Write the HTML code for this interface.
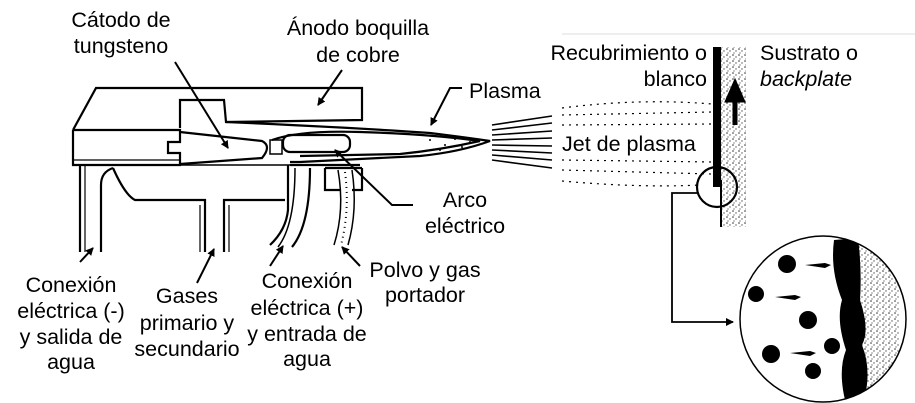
<!DOCTYPE html>
<html><head><meta charset="utf-8"><style>
html,body{margin:0;padding:0;background:#fff;}
svg{display:block;}
text{font-family:"Liberation Sans",sans-serif;font-size:21.5px;fill:#000;}
</style></head><body>
<svg width="915" height="403" viewBox="0 0 915 403">
<defs>
<pattern id="st" width="6" height="6" patternUnits="userSpaceOnUse">
<rect width="6" height="6" fill="#fff"/>
<circle cx="1" cy="1" r="0.8" fill="#333"/><circle cx="4" cy="3" r="0.7" fill="#555"/><circle cx="2" cy="5" r="0.6" fill="#444"/>
</pattern>
<marker id="ah" markerWidth="8" markerHeight="8" refX="7" refY="4" orient="auto" markerUnits="userSpaceOnUse">
<path d="M0,0 L8,4 L0,8 z" fill="#000"/></marker>
</defs>
<line x1="562" y1="34" x2="915" y2="34" stroke="#ddd" stroke-width="1"/>
<g fill="none" stroke="#000" stroke-width="2.2">
<path d="M73,130 L96,88 L362,88 L362,120 L226,122 L224,100 L180,100 L180,128"/>
<path d="M73,130 L73,165 L180,165 L180,153 L168,153 L168,142 L180,142 L180,130 L73,130"/>
<line x1="73" y1="160" x2="180" y2="160" stroke-width="1.2"/>
<path d="M180,132 L262,141 Q272,146 262,158 L180,164"/>
<rect x="270" y="140" width="12" height="14" stroke-width="1.5"/>
<path d="M226,122 Q360,128 430,133 Q470,138 490,141 Q460,152 420,156 L300,162 L290,162"/>
<path d="M272,140 Q300,130 360,132 Q430,134 480,141 Q440,150 400,154 L300,156"/>
<rect x="283" y="135" width="67" height="17" rx="7"/>
<line x1="180" y1="165" x2="290" y2="165" stroke-width="1.5"/>
<line x1="290" y1="165" x2="360" y2="165"/>
<line x1="80" y1="165" x2="80" y2="252"/><line x1="85" y1="165" x2="85" y2="252" stroke-width="1.2"/>
<path d="M101,252 L101,185 Q101,172 113,168"/>
<path d="M113,168 Q125,195 135,200 L205,200 L205,252"/>
<line x1="200" y1="205" x2="200" y2="252" stroke-width="1.2"/>
<path d="M224,252 L224,200 L285,200"/><line x1="229" y1="205" x2="229" y2="252" stroke-width="1.2"/>
<path d="M288,165 L288,210 Q286,230 270,245"/>
<path d="M295,168 Q295,225 278,247" stroke-width="1.5"/>
<path d="M310,168 Q310,225 292,247"/>
<path d="M325,168 L325,190 L340,190"/><path d="M362,168 L362,190 L352,190"/>
<line x1="325" y1="168" x2="362" y2="168"/>
<path d="M338,170 Q345,210 334,245" stroke-width="1.5"/>
<path d="M352,170 Q358,210 348,245" stroke-width="1.5"/>
<path d="M345,172 Q350,210 341,245" stroke-dasharray="1,4" stroke-width="2"/>
</g>
<g fill="#000"><circle cx="430" cy="140" r="1"/><circle cx="445" cy="145" r="1"/><circle cx="455" cy="139" r="1"/><circle cx="462" cy="147" r="1"/><circle cx="470" cy="142" r="1"/><circle cx="440" cy="150" r="1"/><circle cx="478" cy="145" r="1"/></g>
<g stroke="#000" stroke-width="1.6">
<line x1="492" y1="125" x2="552" y2="116"/><line x1="492" y1="130" x2="552" y2="123"/><line x1="492" y1="135" x2="552" y2="131"/><line x1="492" y1="140" x2="552" y2="138"/><line x1="492" y1="145" x2="552" y2="146"/><line x1="492" y1="150" x2="552" y2="153"/><line x1="492" y1="155" x2="552" y2="160"/><line x1="492" y1="160" x2="552" y2="168"/>
</g>
<g stroke="#000" stroke-width="1.2" fill="none" stroke-dasharray="2,5">
<path d="M562,108 Q640,98 712,104"/><path d="M562,115 L712,112"/><path d="M562,125 L712,124"/><path d="M562,160 L712,162"/><path d="M562,170 L712,174"/><path d="M562,181 Q640,188 700,185"/>
</g>
<rect x="720" y="47" width="26" height="180" fill="url(#st)"/>
<rect x="713" y="47" width="8" height="140" fill="#000"/>
<line x1="721" y1="180" x2="721" y2="227" stroke="#000" stroke-width="2"/>
<path d="M735,125 L735,100 M728,100 L735,84 L742,100 z" stroke="#000" stroke-width="5" fill="#000"/>
<circle cx="717" cy="187" r="20" fill="none" stroke="#000" stroke-width="2.2"/>
<path d="M697,193 L672,193 L672,322 L733,322" fill="none" stroke="#000" stroke-width="1.8" marker-end="url(#ah)"/>
<clipPath id="cc"><circle cx="823" cy="319" r="83"/></clipPath>
<g clip-path="url(#cc)">
<rect x="850" y="235" width="50" height="170" fill="url(#st)"/>
<path d="M834,240 L858,238 Q862,270 860,300 Q870,330 862,345 Q872,370 864,400 L845,400 Q838,370 846,350 Q836,320 842,300 Q830,270 834,240 z" fill="#000"/>
</g>
<circle cx="823" cy="319" r="83" fill="none" stroke="#000" stroke-width="1.5"/>
<g fill="#000">
<circle cx="787" cy="264" r="9"/><circle cx="756" cy="294" r="8"/><circle cx="808" cy="320" r="9"/><circle cx="771" cy="354" r="9"/><circle cx="832" cy="346" r="8"/><circle cx="813" cy="371" r="8"/>
<path d="M805,265 L825,263 L831,265 L825,268 z"/><path d="M775,297 L795,295 L801,297 L795,300 z"/><path d="M790,353 L810,351 L816,353 L810,356 z"/>
</g>
<g stroke="#000" stroke-width="2" fill="none" marker-end="url(#ah)">
<line x1="175" y1="62" x2="228" y2="148"/>
<line x1="342" y1="70" x2="318" y2="105"/>
<polyline points="462,88 450,88 431,125"/>
<polyline points="413,205 392,205 335,150"/>
<line x1="80" y1="262" x2="93" y2="248"/>
<line x1="197" y1="283" x2="214" y2="249"/>
<line x1="270" y1="266" x2="283" y2="246"/>
<line x1="360" y1="266" x2="342" y2="247"/>
</g>
<g text-anchor="middle">
<text x="121" y="27">Cátodo de</text><text x="121" y="53">tungsteno</text>
<text x="358" y="35">Ánodo boquilla</text><text x="358" y="62">de cobre</text>
<text x="465" y="207">Arco</text><text x="465" y="233">eléctrico</text>
<text x="71" y="292">Conexión</text><text x="71" y="318">eléctrica (-)</text><text x="71" y="344">y salida de</text><text x="71" y="369">agua</text>
<text x="187" y="303">Gases</text><text x="187" y="330">primario y</text><text x="187" y="356">secundario</text>
<text x="307" y="288">Conexión</text><text x="307" y="315">eléctrica (+)</text><text x="307" y="341">y entrada de</text><text x="307" y="366">agua</text>
<text x="425" y="277">Polvo y gas</text><text x="425" y="302">portador</text>
</g>
<text x="469" y="98">Plasma</text>
<text x="707" y="60" text-anchor="end">Recubrimiento o</text>
<text x="707" y="86" text-anchor="end">blanco</text>
<text x="760" y="60">Sustrato o</text>
<text x="760" y="86" font-style="italic">backplate</text>
<text x="562" y="151">Jet de plasma</text>
</svg>
</body></html>
